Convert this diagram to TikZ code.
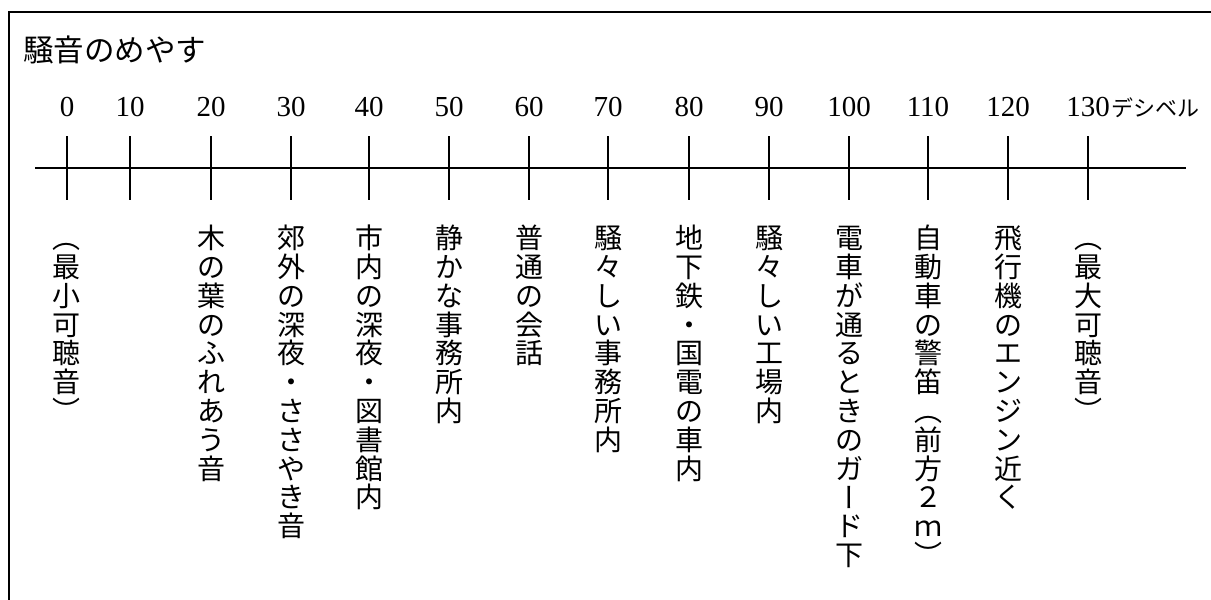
\documentclass[tikz,border=0pt]{standalone}
\usepackage{fontspec}
\usepackage{graphicx}
\newfontfamily\jp{Noto Sans CJK JP}
\newfontfamily\numfont{Liberation Serif}
\makeatletter
\newcommand\vlabel[1]{\vbox{\offinterlineskip\@tfor\vch:=#1\do{\hbox to 30pt{\hss\rule[-4.3pt]{0pt}{28.8pt}\vch\hss}}}}
\makeatother
\newcommand\vlp{︵}
\newcommand\vrp{︶}
\newcommand\vbar{\rotatebox[origin=c]{-90}{\rule[-0.12em]{0pt}{1em}ー}}
\tikzset{
  frame/.style={line width=2pt},
  axis/.style={line width=1.6pt},
  tickline/.style={line width=1.6pt},
  num/.style={inner sep=0pt, font=\numfont\fontsize{29}{30}\selectfont},
  vl/.style={inner sep=0pt, anchor=north, font=\jp\fontsize{28}{28.8}\selectfont},
  title/.style={inner sep=0pt, anchor=west, font=\jp\fontsize{30.5}{32}\selectfont}
}
\begin{document}
\begin{tikzpicture}[x=1pt,y=-1pt]
\useasboundingbox (0,0) rectangle (1211,600);
\fill[white] (0,0) rectangle (1211,600);
\draw[frame] (9,600) -- (9,12) -- (1211,12);
\node[title] (ttl) at (23,50) {騒音のめやす};
\coordinate (axL) at (35,168);
\coordinate (axR) at (1186,168);
\draw[axis] (axL) -- (axR);
\foreach \v/\x in {0/67,10/130,20/211,30/291,40/369,50/449,60/529,70/608,80/689,90/769,100/849,110/928,120/1008,130/1088}{
  \coordinate (t\v) at (\x,168);
  \draw[tickline] ([yshift=32pt]t\v) -- ([yshift=-32pt]t\v);
}
\foreach \v/\x in {0/67,10/130,20/211,30/291,40/369,50/449,60/529,70/608,80/689,90/769,100/849,110/928,120/1008,130/1088}{
  \node[num] (n\v) at (\x,107) {\v};
}
\node[inner sep=0pt, anchor=base west, font=\jp\fontsize{22}{24}\selectfont] (unit) at ([xshift=1pt]n130.base east) {デシベル};
\node[vl] (l0)   at (67,224)  {\vlabel{\vlp 最小可聴音\vrp}};
\node[vl] (l20)  at (211,224) {\vlabel{木の葉のふれあう音}};
\node[vl] (l30)  at (291,224) {\vlabel{郊外の深夜・ささやき音}};
\node[vl] (l40)  at (369,224) {\vlabel{市内の深夜・図書館内}};
\node[vl] (l50)  at (449,224) {\vlabel{静かな事務所内}};
\node[vl] (l60)  at (529,224) {\vlabel{普通の会話}};
\node[vl] (l70)  at (608,224) {\vlabel{騒々しい事務所内}};
\node[vl] (l80)  at (689,224) {\vlabel{地下鉄・国電の車内}};
\node[vl] (l90)  at (769,224) {\vlabel{騒々しい工場内}};
\node[vl] (l100) at (849,224) {\vlabel{電車が通るときのガ\vbar ド下}};
\node[vl] (l110) at (928,224) {\vlabel{自動車の警笛\vlp 前方２ｍ\vrp}};
\node[vl] (l120) at (1008,224) {\vlabel{飛行機のエンジン近く}};
\node[vl] (l130) at (1088,224) {\vlabel{\vlp 最大可聴音\vrp}};
\end{tikzpicture}
\end{document}
